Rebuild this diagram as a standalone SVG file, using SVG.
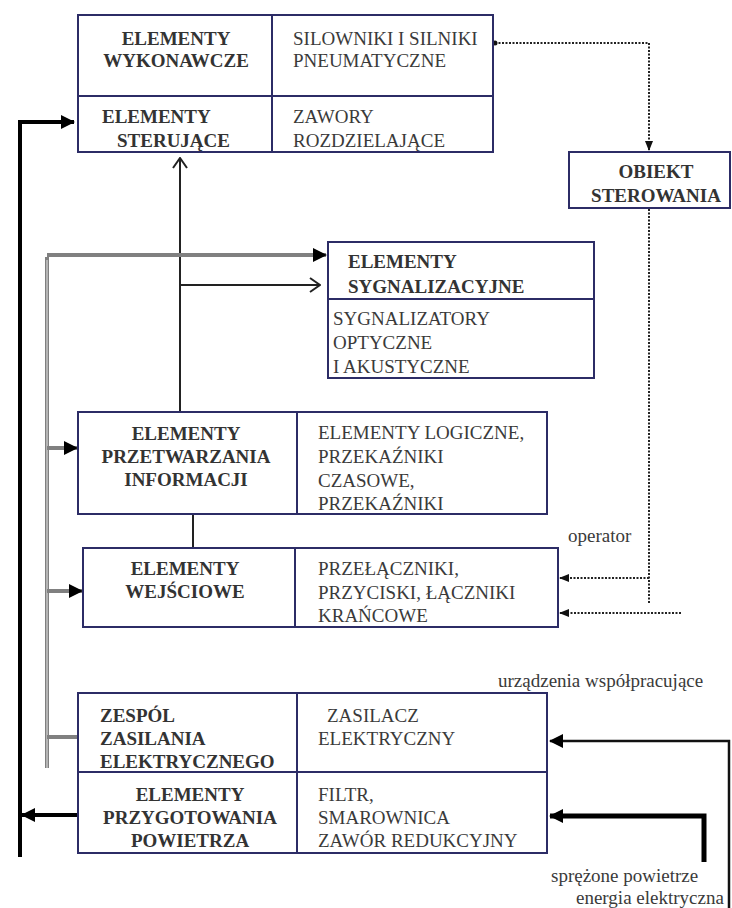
<svg xmlns="http://www.w3.org/2000/svg" width="732" height="908" viewBox="0 0 732 908">
<style>
  .box { fill: #ffffff; stroke: #2c2c66; stroke-width: 2; }
  .div { stroke: #2c2c66; stroke-width: 2; fill: none; }
  .h { font-family: "Liberation Serif", "Times New Roman", serif; font-weight: bold; font-size: 19px; fill: #333333; }
  .t { font-family: "Liberation Serif", "Times New Roman", serif; font-size: 19px; fill: #3a3a3a; }
  .hc { text-anchor: middle; }
  .thick { stroke: #000000; stroke-width: 4; fill: none; }
  .thin { stroke: #222222; stroke-width: 2; fill: none; }
  .gray { stroke: #808080; stroke-width: 4; fill: none; }
  .dot { stroke: #222222; stroke-width: 2; stroke-dasharray: 2 1.5; fill: none; }
</style>
<defs>
  <marker id="filled" markerUnits="userSpaceOnUse" markerWidth="14" markerHeight="14" refX="13" refY="7" orient="auto">
    <path d="M0,0 L14,7 L0,14 Z" fill="#000000"/>
  </marker>
  <marker id="open" markerUnits="userSpaceOnUse" markerWidth="12" markerHeight="16" refX="11" refY="8" orient="auto">
    <path d="M1,1 L11,8 L1,15" fill="none" stroke="#222222" stroke-width="2"/>
  </marker>
  <marker id="small" markerUnits="userSpaceOnUse" markerWidth="10" markerHeight="10" refX="9" refY="5" orient="auto">
    <path d="M0,1 L10,5 L0,9 Z" fill="#111111"/>
  </marker>
  <marker id="startdot" markerUnits="userSpaceOnUse" markerWidth="6" markerHeight="6" refX="3" refY="3">
    <circle cx="3" cy="3" r="2.5" fill="#111111"/>
  </marker>
</defs>
<rect width="732" height="908" fill="#ffffff"/>

<g id="connectors">
  <!-- thick black left bus -->
  <path class="thick" d="M20,857 L20,122 L74,122" marker-end="url(#filled)"/>
  <path class="thick" d="M78,815 L22,815" marker-end="url(#filled)"/>
  <!-- vertical from przetwarzania up to sterujace -->
  <path class="thin" d="M180,420 L180,158" marker-end="url(#open)"/>
  <path class="thin" d="M180,285 L320,285" marker-end="url(#open)"/>
  <!-- gray electrical bus -->
  <path class="gray" d="M47,768 L47,257"/>
  <path stroke="#d8d8d8" stroke-width="1.2" fill="none" d="M47,768 L47,260"/>
  <path class="gray" d="M47,255 L326,255" marker-end="url(#filled)"/>
  <path class="gray" d="M47,448 L77,448" marker-end="url(#filled)"/>
  <path class="gray" d="M47,591 L82,591" marker-end="url(#filled)"/>
  <path class="gray" d="M47,737 L78,737"/>
  <!-- przetwarzania to wejsciowe -->
  <path class="thin" stroke-width="2.5" d="M193,514 L193,548"/>
  <!-- dotted loop through object -->
  <path class="dot" d="M495,43 L649,43 L649,150" marker-start="url(#startdot)" marker-end="url(#small)"/>
  <path class="dot" d="M649,209 L649,603"/>
  <path class="dot" d="M649,578 L560,578" marker-end="url(#small)"/>
  <path class="dot" d="M681,613 L560,613" marker-end="url(#small)"/>
  <!-- external supplies -->
  <path stroke="#111111" stroke-width="2.5" fill="none" d="M729,908 L729,741 L550,741" marker-end="url(#filled)"/>
  <path stroke="#000000" stroke-width="5" fill="none" d="M704,862 L704,816 L550,816" marker-end="url(#filled)"/>
</g>

<g id="node-wykonawcze-sterujace">
  <rect class="box" x="78" y="15" width="415" height="137"/>
  <path class="div" d="M272,15 L272,152 M78,96 L493,96"/>
  <text class="h hc" x="176" y="45">ELEMENTY</text>
  <text class="h hc" x="176" y="67">WYKONAWCZE</text>
  <text class="t" x="293" y="45">SILOWNIKI I SILNIKI</text>
  <text class="t" x="293" y="67">PNEUMATYCZNE</text>
  <text class="h" x="102" y="123">ELEMENTY</text>
  <text class="h" x="117" y="147">STERUJĄCE</text>
  <text class="t" x="293" y="123">ZAWORY</text>
  <text class="t" x="293" y="147">ROZDZIELAJĄCE</text>
</g>

<g id="node-obiekt">
  <rect class="box" x="569" y="152" width="161" height="56"/>
  <text class="h hc" x="656" y="178">OBIEKT</text>
  <text class="h hc" x="656" y="202">STEROWANIA</text>
</g>

<g id="node-sygnalizacyjne">
  <rect class="box" x="328" y="242" width="266" height="136"/>
  <path class="div" d="M328,299 L594,299"/>
  <text class="h" x="348" y="268">ELEMENTY</text>
  <text class="h" x="348" y="293">SYGNALIZACYJNE</text>
  <text class="t" x="333" y="325">SYGNALIZATORY</text>
  <text class="t" x="333" y="349">OPTYCZNE</text>
  <text class="t" x="333" y="373">I AKUSTYCZNE</text>
</g>

<g id="node-przetwarzania">
  <rect class="box" x="78" y="412" width="469" height="102"/>
  <path class="div" d="M297,412 L297,514"/>
  <text class="h hc" x="186" y="440">ELEMENTY</text>
  <text class="h hc" x="186" y="463">PRZETWARZANIA</text>
  <text class="h hc" x="186" y="486">INFORMACJI</text>
  <text class="t" x="318" y="439">ELEMENTY LOGICZNE,</text>
  <text class="t" x="318" y="463">PRZEKAŹNIKI</text>
  <text class="t" x="318" y="487">CZASOWE,</text>
  <text class="t" x="318" y="510">PRZEKAŹNIKI</text>
</g>

<g id="node-wejsciowe">
  <rect class="box" x="83" y="548" width="475" height="79"/>
  <path class="div" d="M295,548 L295,627"/>
  <text class="h hc" x="185" y="575">ELEMENTY</text>
  <text class="h hc" x="185" y="598">WEJŚCIOWE</text>
  <text class="t" x="318" y="575">PRZEŁĄCZNIKI,</text>
  <text class="t" x="318" y="599">PRZYCISKI, ŁĄCZNIKI</text>
  <text class="t" x="318" y="622">KRAŃCOWE</text>
</g>

<g id="node-zasilanie-przygotowanie">
  <rect class="box" x="78" y="693" width="469" height="160"/>
  <path class="div" d="M297,693 L297,853 M78,772 L547,772"/>
  <text class="h" x="100" y="722">ZESPÓL</text>
  <text class="h" x="100" y="745">ZASILANIA</text>
  <text class="h" x="100" y="768">ELEKTRYCZNEGO</text>
  <text class="t" x="327" y="722">ZASILACZ</text>
  <text class="t" x="318" y="745">ELEKTRYCZNY</text>
  <text class="h hc" x="190" y="801">ELEMENTY</text>
  <text class="h hc" x="190" y="824">PRZYGOTOWANIA</text>
  <text class="h hc" x="190" y="847">POWIETRZA</text>
  <text class="t" x="318" y="801">FILTR,</text>
  <text class="t" x="318" y="824">SMAROWNICA</text>
  <text class="t" x="318" y="847">ZAWÓR REDUKCYJNY</text>
</g>

<g id="labels">
  <text class="t" x="568" y="542" font-size="18">operator</text>
  <text class="t" x="498" y="687">urządzenia współpracujące</text>
  <text class="t" x="551" y="882" font-size="18">sprężone powietrze</text>
  <text class="t" x="576" y="904" font-size="18">energia elektryczna</text>
</g>
</svg>
